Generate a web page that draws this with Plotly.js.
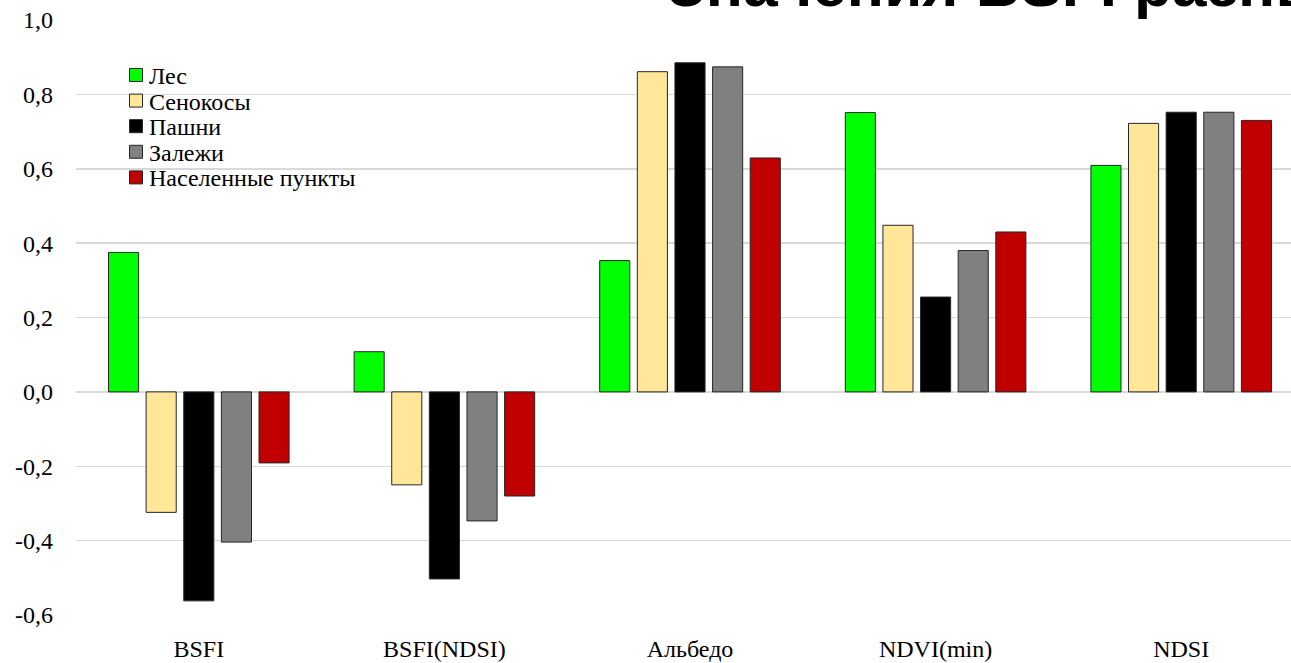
<!DOCTYPE html>
<html>
<head>
<meta charset="utf-8">
<script src="https://cdn.plot.ly/plotly-3.0.1.min.js"></script>
<style>
html,body{margin:0;padding:0;overflow:hidden;background:#fff;}
#chart{width:1304px;height:663px;}
</style>
</head>
<body>
<div id="chart"></div>
<script>
const categories = ["BSFI", "BSFI(NDSI)", "Альбедо", "NDVI(min)", "NDSI"];
const seriesNames = ["Лес", "Сенокосы", "Пашни", "Залежи", "Населенные пункты"];
const les       = [0.375, 0.108, 0.353, 0.751, 0.609];
const senokosy  = [-0.324, -0.250, 0.861, 0.448, 0.722];
const pashni    = [-0.562, -0.503, 0.885, 0.255, 0.752];
const zalezhi   = [-0.404, -0.347, 0.874, 0.380, 0.752];
const naselen   = [-0.191, -0.280, 0.629, 0.430, 0.730];
const yTickVals   = [-0.6, -0.4, -0.2, 0, 0.2, 0.4, 0.6, 0.8, 1.0];
const yTickLabels = ["-0,6", "-0,4", "-0,2", "0,0", "0,2", "0,4", "0,6", "0,8", "1,0"];
const titleText = "Значения BSFI разных классов";

const seriesValues = [les, senokosy, pashni, zalezhi, naselen];
const colors = ["#00FF00", "#FFE699", "#000000", "#808080", "#C00000"];

const SERIF = "Liberation Serif, Times New Roman, serif";
const W = 1304, H = 663, ML = 76, MR = 0, MT = 20, MB = 48;
const PW = W - ML - MR, PH = H - MT - MB;
const px2x = p => (p - ML) / PW;
const py2y = p => (H - MB - p) / PH;

const traces = seriesValues.map((vals, i) => ({
  type: "bar",
  name: seriesNames[i],
  x: categories,
  y: vals,
  marker: { color: colors[i], line: { color: "#262626", width: 1 } },
  hoverinfo: "x+y+name"
}));

// custom legend (exact spacing)
const legShapes = [], legAnnots = [];
seriesNames.forEach((nm, i) => {
  const cy = 75 + 25.6 * i;
  legShapes.push({
    type: "rect", xref: "paper", yref: "paper",
    x0: px2x(129.5), x1: px2x(142.5), y0: py2y(cy + 6.5), y1: py2y(cy - 6.5),
    fillcolor: colors[i], line: { color: "#262626", width: 1 }
  });
  legAnnots.push({
    text: nm, xref: "paper", yref: "paper",
    x: px2x(147), y: py2y(cy + 1), xanchor: "left", yanchor: "middle",
    showarrow: false,
    font: { family: SERIF, size: 24, color: "#000" }
  });
});

const layout = {
  width: W,
  height: H,
  margin: { l: ML, r: MR, t: MT, b: MB },
  paper_bgcolor: "#ffffff",
  plot_bgcolor: "#ffffff",
  barmode: "group",
  bargap: 0.234,
  bargroupgap: 0.2,
  font: { family: SERIF, size: 24, color: "#000" },
  showlegend: false,
  xaxis: {
    type: "category",
    showgrid: false,
    showline: false,
    zeroline: false,
    ticks: "",
    ticklabelstandoff: 17,
    tickfont: { family: SERIF, size: 24, color: "#000" }
  },
  yaxis: {
    range: [-0.6, 1.0],
    tickvals: yTickVals,
    ticktext: yTickLabels,
    showgrid: true,
    gridcolor: "#d9d9d9",
    gridwidth: 1.5,
    zeroline: true,
    zerolinecolor: "#d9d9d9",
    zerolinewidth: 1.5,
    showline: false,
    ticks: "",
    ticklabelstandoff: 22,
    tickfont: { family: SERIF, size: 24, color: "#000" }
  },
  shapes: legShapes,
  annotations: [{
    text: "<b>" + titleText + "</b>",
    xref: "paper", yref: "paper",
    x: px2x(665), y: 1,
    xanchor: "left", yanchor: "bottom",
    yshift: -1,
    showarrow: false,
    align: "left",
    font: { family: "Liberation Sans, Arial, sans-serif", size: 62, color: "#000" }
  }].concat(legAnnots)
};

Plotly.newPlot("chart", traces, layout, { displayModeBar: false, staticPlot: true });
</script>
</body>
</html>
